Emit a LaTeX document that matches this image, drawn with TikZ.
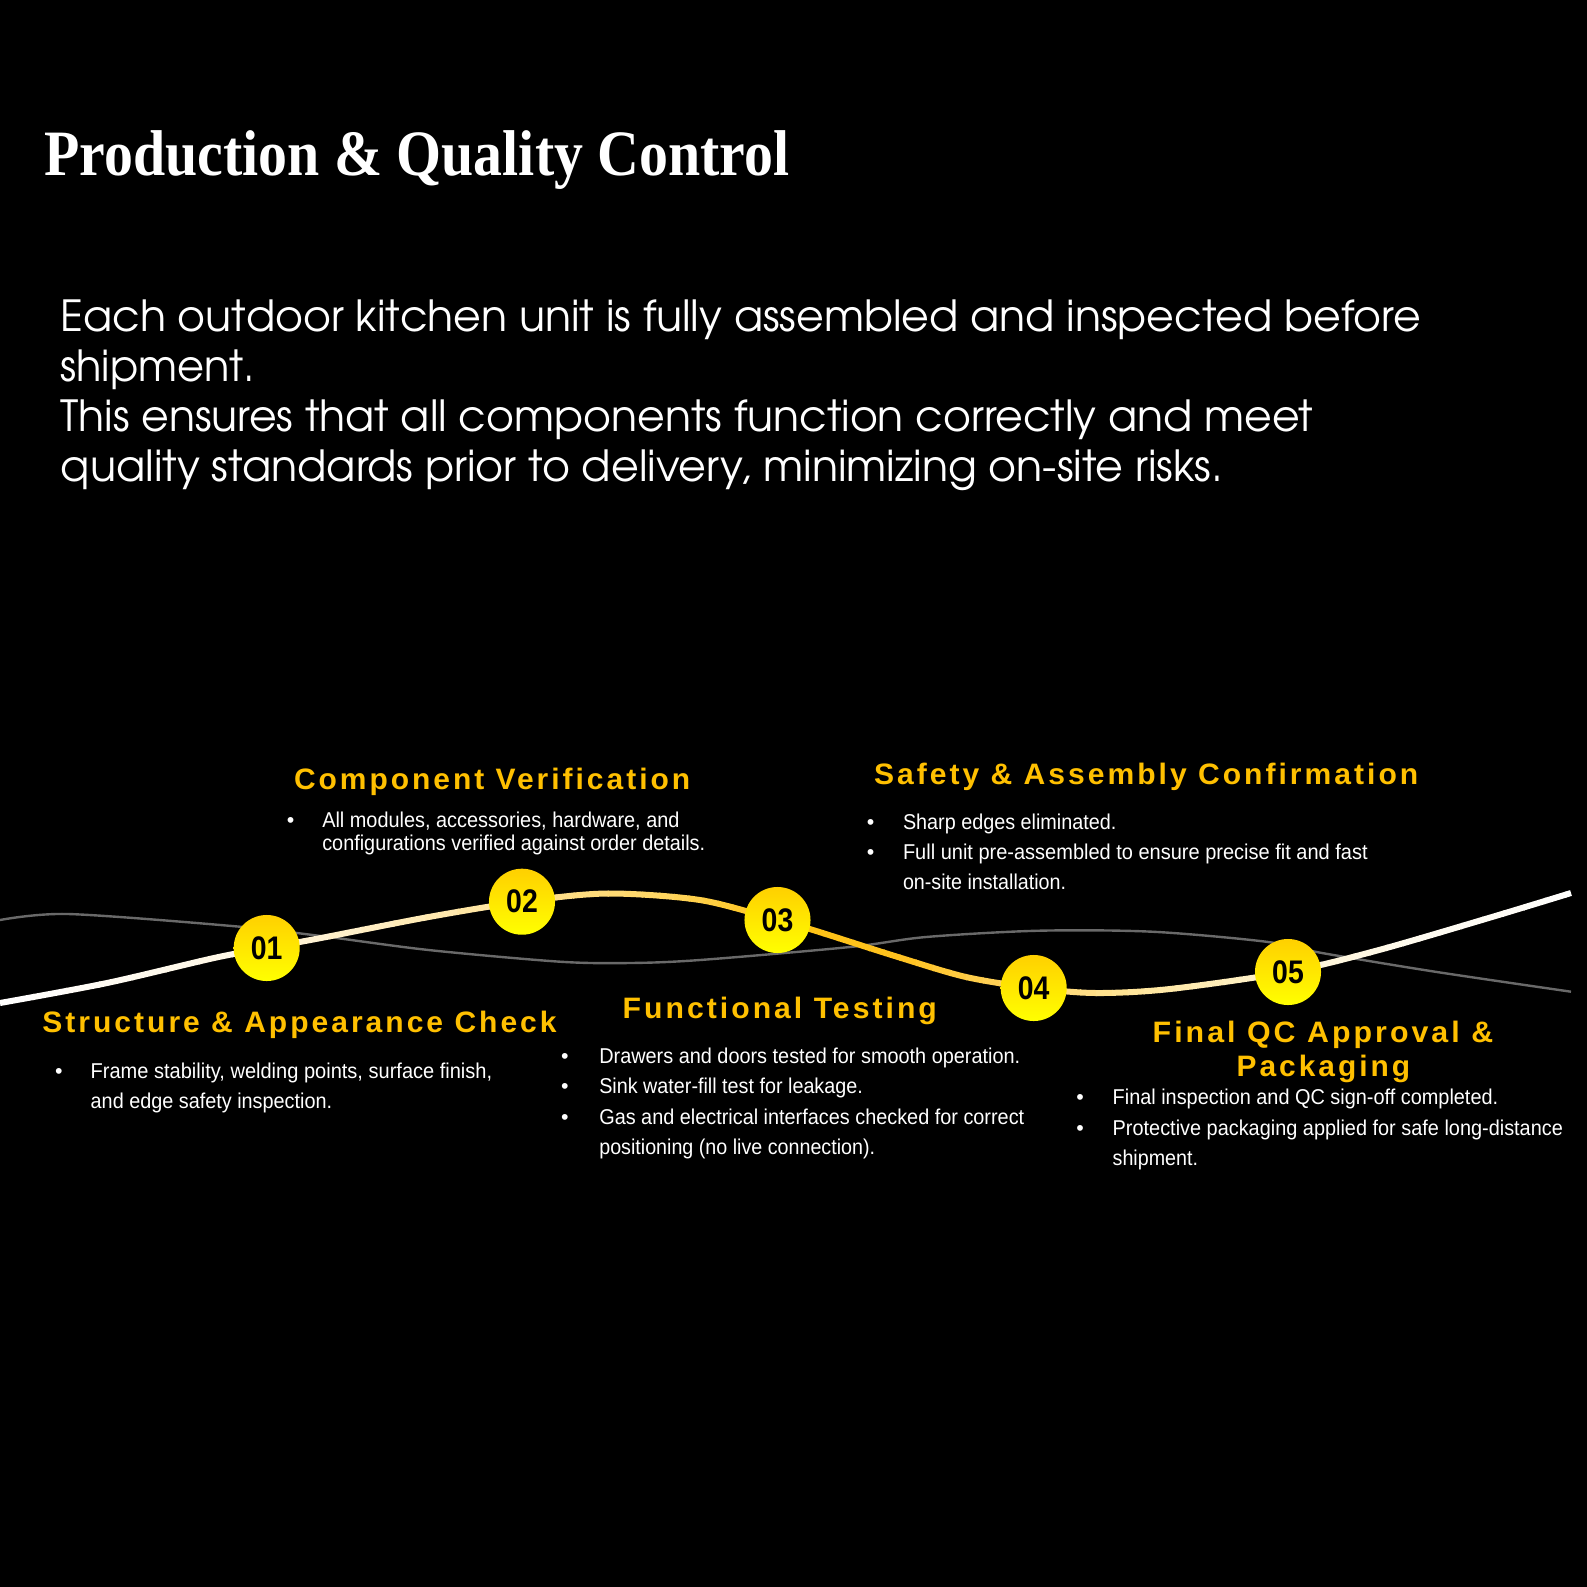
\documentclass[tikz,border=0pt]{standalone}
\usepackage{fontspec}
\usepackage{graphicx}
\setmainfont{Liberation Sans}
\newfontfamily\titlefont{Liberation Serif}
\newfontfamily\headfont{Liberation Sans}[LetterSpace=10]
\newfontfamily\parafont{TeX Gyre Adventor}
\newfontfamily\numfont{Liberation Sans}
\newsavebox\fitbox
\newcommand\fitw[2]{\sbox\fitbox{#2}\pgfmathsetmacro\fitfac{#1*0.284528/(\the\wd\fitbox)}\scalebox{\fitfac}[1]{\usebox\fitbox}}
\definecolor{headgold}{RGB}{255,192,0}
\definecolor{ctop}{RGB}{255,208,0}
\definecolor{cbot}{RGB}{255,255,0}
\definecolor{greywave}{RGB}{105,105,105}
\definecolor{ws0}{RGB}{255,255,255}
\definecolor{ws1}{RGB}{255,246,225}
\definecolor{ws2}{RGB}{255,226,150}
\definecolor{ws3}{RGB}{255,214,100}
\definecolor{ws4}{RGB}{255,196,20}
\definecolor{ws5}{RGB}{255,194,30}
\definecolor{ws6}{RGB}{255,215,110}
\definecolor{ws7}{RGB}{255,232,165}
\definecolor{ws8}{RGB}{255,244,210}
\definecolor{ws9}{RGB}{255,251,240}
\definecolor{ws10}{RGB}{255,255,255}
\begin{document}
\begin{tikzpicture}[x=0.01cm,y=-0.01cm,
  titlestyle/.style={anchor=base west,inner sep=0pt,outer sep=0pt,text=white,font=\titlefont\bfseries\fontsize{18.4pt}{20pt}\selectfont},
  parastyle/.style={anchor=base west,inner sep=0pt,outer sep=0pt,text=white,font=\parafont\fontsize{12.2pt}{15pt}\selectfont},
  headstyle/.style={anchor=base west,inner sep=0pt,outer sep=0pt,text=headgold,font=\headfont\bfseries\fontsize{8.4pt}{9pt}\selectfont},
  bodystyle/.style={anchor=base west,inner sep=0pt,outer sep=0pt,text=white,font=\fontsize{6.1pt}{7pt}\selectfont},
  bulstyle/.style={anchor=base,inner sep=0pt,outer sep=0pt,text=white,font=\fontsize{6.1pt}{7pt}\selectfont},
  stepcircle/.style={circle,minimum size=0.66cm,inner sep=0pt,top color=ctop,bottom color=cbot,draw=none,text=black,font=\numfont\bfseries\fontsize{8.6pt}{9pt}\selectfont},
  greystyle/.style={draw=greywave,line width=0.68pt},
  wavestyle/.style={line width=1.71pt}
]
\useasboundingbox (0,0) rectangle (1587,1587);
\fill[black] (0,0) rectangle (1587,1587);

% title
\node[titlestyle] (title) at (44.5,175) {\fitw{744.5}{Production \& Quality Control}};

% paragraph
\node[parastyle] (para1) at (60.5,331.5) {\fitw{1359.5}{Each outdoor kitchen unit is fully assembled and inspected before}};
\node[parastyle] (para2) at (60.5,381.7) {\fitw{194.5}{shipment.}};
\node[parastyle] (para3) at (60.5,431.7) {\fitw{1252}{This ensures that all components function correctly and meet}};
\node[parastyle] (para4) at (60.5,481.7) {\fitw{1162}{quality standards prior to delivery, minimizing on-site risks.}};

% step positions
\coordinate (c1) at (266.7,948);
\coordinate (c2) at (522,901.7);
\coordinate (c3) at (777.5,920);
\coordinate (c4) at (1033.7,988);
\coordinate (c5) at (1288,972);
\coordinate (wl) at (0,1003);
\coordinate (wr) at (1571,893);
\coordinate (gl) at (0,920);
\coordinate (gr) at (1571,991.7);

% grey background wave
\draw[greystyle] plot[smooth,tension=0.5] coordinates {(gl) (68,914) (232,926) (321,936) (428.6,950) (560,961.7) (630,963) (700,960) (850,947) (926,937) (1039,930.7) (1152,931.7) (1266,941.7) (1322,953) (1435,971.7) (gr)};

% main wave (saved path, coloured in vertical strips)
\path[save path=\wavepath] plot[smooth,tension=0.5] coordinates {(wl) (107,983) (214,958) (c1) (321,938) (428.6,917) (c2) (607,893.5) (700,900) (c3) (813,930) (898,957) (966,977) (c4) (1096,993) (1170,989) (c5) (1379,950) (1492,917) (wr)};
\foreach \xa/\xb/\ca/\cb in {0/266/ws0/ws1,266/522/ws1/ws2,522/660/ws2/ws3,660/777/ws3/ws4,777/900/ws4/ws5,900/1033/ws5/ws6,1033/1160/ws6/ws7,1160/1288/ws7/ws8,1288/1420/ws8/ws9,1420/1587/ws9/ws10}{
  \foreach \k in {0,...,7}{
    \pgfmathsetmacro\sa{\xa+(\xb-\xa)*\k/8-0.6}
    \pgfmathsetmacro\sb{\xa+(\xb-\xa)*(\k+1)/8+0.6}
    \pgfmathtruncatemacro\pp{(\k+0.5)*100/8}
    \begin{scope}
      \clip (\sa,0) rectangle (\sb,1587);
      \path[wavestyle,draw=\cb!\pp!\ca,use path=\wavepath];
    \end{scope}
  }
}

% step circles
\node[stepcircle] (s1) at (c1) {\scalebox{0.94}[1.08]{01}};
\node[stepcircle] (s2) at (c2) {\scalebox{0.94}[1.08]{02}};
\node[stepcircle] (s3) at (c3) {\scalebox{0.94}[1.08]{03}};
\node[stepcircle] (s4) at (c4) {\scalebox{0.94}[1.08]{04}};
\node[stepcircle] (s5) at (c5) {\scalebox{0.94}[1.08]{05}};

% step 1
\node[headstyle] (h1) at (42.4,1032.7) {\fitw{514}{Structure \& Appearance Check}};
\node[bulstyle] (b1a) at (59,1078.3) {\textbullet};
\node[bodystyle] (t1a) at (90.7,1078.3) {\fitw{401.3}{Frame stability, welding points, surface finish,}};
\node[bodystyle] (t1b) at (90.7,1108.3) {\fitw{241.3}{and edge safety inspection.}};

% step 2
\node[headstyle] (h2) at (294,789.3) {\fitw{396}{Component Verification}};
\node[bulstyle] (b2a) at (290.7,827.3) {\textbullet};
\node[bodystyle] (t2a) at (322.3,827.3) {\fitw{357}{All modules, accessories, hardware, and}};
\node[bodystyle] (t2b) at (322.3,850.7) {\fitw{382.7}{configurations verified against order details.}};

% step 3
\node[headstyle] (h3) at (874,784.3) {\fitw{544}{Safety \& Assembly Confirmation}};
\node[bulstyle] (b3a) at (870.6,829) {\textbullet};
\node[bodystyle] (t3a) at (903,829) {\fitw{213.3}{Sharp edges eliminated.}};
\node[bulstyle] (b3b) at (870.6,859.3) {\textbullet};
\node[bodystyle] (t3b) at (903,859.3) {\fitw{464.4}{Full unit pre-assembled to ensure precise fit and fast}};
\node[bodystyle] (t3c) at (903,889.3) {\fitw{163}{on-site installation.}};

% step 4
\node[headstyle] (h4) at (622.7,1018.3) {\fitw{314}{Functional Testing}};
\node[bulstyle] (b4a) at (565,1063.3) {\textbullet};
\node[bodystyle] (t4a) at (599.3,1063.3) {\fitw{420.7}{Drawers and doors tested for smooth operation.}};
\node[bulstyle] (b4b) at (565,1093.3) {\textbullet};
\node[bodystyle] (t4b) at (599.3,1093.3) {\fitw{263.4}{Sink water-fill test for leakage.}};
\node[bulstyle] (b4c) at (565,1124) {\textbullet};
\node[bodystyle] (t4c) at (599.3,1124) {\fitw{424.7}{Gas and electrical interfaces checked for correct}};
\node[bodystyle] (t4d) at (599.3,1154) {\fitw{275.7}{positioning (no live connection).}};

% step 5
\node[headstyle] (h5a) at (1152.7,1042.3) {\fitw{340.3}{Final QC Approval \&}};
\node[headstyle] (h5b) at (1236.6,1076.7) {\fitw{173.4}{Packaging}};
\node[bulstyle] (b5a) at (1080,1104.3) {\textbullet};
\node[bodystyle] (t5a) at (1112.7,1104.3) {\fitw{385.3}{Final inspection and QC sign-off completed.}};
\node[bulstyle] (b5b) at (1080,1135.7) {\textbullet};
\node[bodystyle] (t5b) at (1112.7,1135.7) {\fitw{450}{Protective packaging applied for safe long-distance}};
\node[bodystyle] (t5c) at (1112.7,1165.7) {\fitw{85.3}{shipment.}};
\end{tikzpicture}
\end{document}
